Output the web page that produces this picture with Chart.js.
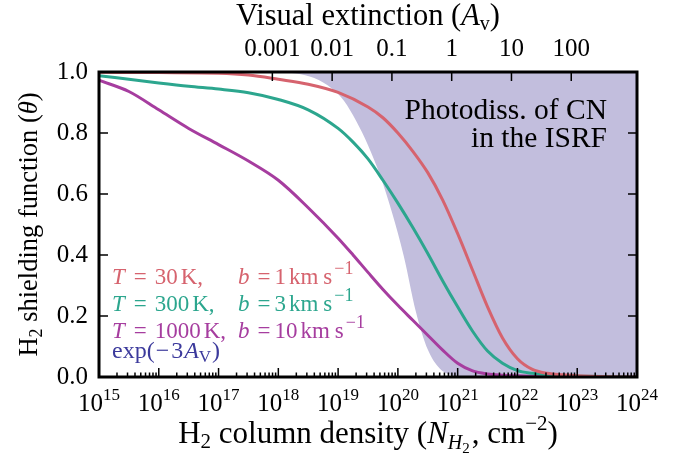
<!DOCTYPE html>
<html>
<head>
<meta charset="utf-8">
<script src="https://cdn.jsdelivr.net/npm/chart.js@4.4.0/dist/chart.umd.min.js"></script>
<style>
html,body{margin:0;background:#fff;}
.warm{position:absolute;left:-999px;top:0;font-family:"Liberation Serif","Times New Roman",serif;}
</style>
</head>
<body>
<span class="warm">Visual <i>extinction</i> 0123456789</span>
<canvas id="c" width="687" height="455"></canvas>
<script>
// log10 of the H2 column density (cm^-2) and shielding factor
const logN30 = [15, 16, 17, 17.5, 18, 18.5, 19, 19.5, 19.75, 20, 20.25, 20.5, 20.75, 21, 21.25, 21.5, 21.75, 22, 22.25, 22.5, 22.75, 23, 23.5, 24];
const theta30 = [0.999, 0.998, 0.996, 0.99, 0.976, 0.96, 0.933, 0.885, 0.85, 0.80, 0.74, 0.67, 0.58, 0.47, 0.35, 0.23, 0.128, 0.06, 0.025, 0.012, 0.007, 0.004, 0.001, 0];

const logN300 = [15, 15.5, 16, 16.5, 17, 17.5, 18, 18.5, 19, 19.25, 19.5, 19.75, 20, 20.25, 20.5, 20.75, 21, 21.25, 21.5, 21.75, 22, 22.25, 22.5, 23, 24];
const theta300 = [0.988, 0.976, 0.964, 0.953, 0.944, 0.932, 0.91, 0.876, 0.815, 0.77, 0.715, 0.645, 0.57, 0.49, 0.405, 0.315, 0.23, 0.15, 0.085, 0.045, 0.021, 0.012, 0.007, 0.003, 0];

const logN1000 = [15, 15.5, 16, 16.5, 17, 17.5, 18, 18.5, 19, 19.25, 19.5, 19.75, 20, 20.25, 20.5, 20.75, 21, 21.25, 21.5, 21.75, 22, 22.5, 24];
const theta1000 = [0.973, 0.936, 0.876, 0.815, 0.762, 0.708, 0.645, 0.555, 0.455, 0.4, 0.343, 0.287, 0.235, 0.186, 0.137, 0.088, 0.045, 0.02, 0.01, 0.006, 0.004, 0.001, 0];

// edge of the shaded exp(-3 A_V) region
const logNExp = [17.0, 18.0, 18.3, 18.6, 18.9, 19.1, 19.3, 19.5, 19.7, 19.9, 20.1, 20.3, 20.5, 20.7, 20.9, 21.1, 24];
const thetaExp = [1.0, 0.999, 0.995, 0.98, 0.945, 0.905, 0.84, 0.76, 0.662, 0.54, 0.395, 0.215, 0.09, 0.028, 0.006, 0, 0];

const decades = [15, 16, 17, 18, 19, 20, 21, 22, 23, 24];
const yTicks = [0, 0.2, 0.4, 0.6, 0.8, 1.0];
const avTicks = [-3, -2, -1, 0, 1, 2];        // log10(A_V)
const avTickLabels = ['0.001', '0.01', '0.1', '1', '10', '100'];
const AV_MIN = -5.9, AV_MAX = 3.1;            // top axis range matching 1e15..1e24

const RED = '#d6636e', TEAL = '#2ca68e', PURPLE = '#a63d9f', EXPBLUE = '#3c3a9c', SHADE = '#c2bedd';
const SERIF = "'Liberation Serif', 'Times New Roman', 'DejaVu Serif', serif";
const f = (size, style) => (style ? style + ' ' : '') + size + 'px ' + SERIF;

const pts = (xs, ys) => xs.map((x, i) => ({x: x, y: ys[i]}));

// draws a list of text runs (font changes, sub/superscripts) on one baseline
function drawRich(ctx, runs, x, y, align) {
  let total = 0;
  for (const r of runs) { ctx.font = r.f; total += ctx.measureText(r.t).width + (r.gap || 0); }
  let cx = align === 'center' ? x - total / 2 : align === 'right' ? x - total : x;
  for (const r of runs) {
    ctx.font = r.f;
    if (r.c) ctx.fillStyle = r.c;
    ctx.fillText(r.t, cx, y + (r.dy || 0));
    cx += ctx.measureText(r.t).width + (r.gap || 0);
  }
}

const decor = {
  id: 'decor',
  afterDatasetsDraw(chart) {
    const ctx = chart.ctx, a = chart.chartArea, sx = chart.scales.x, sy = chart.scales.y, st = chart.scales.xTop;
    ctx.save();
    ctx.strokeStyle = '#000';
    ctx.lineWidth = 1.5;
    ctx.beginPath();
    // bottom: decades + minor ticks
    decades.forEach(d => {
      const x = sx.getPixelForValue(d);
      ctx.moveTo(x, a.bottom); ctx.lineTo(x, a.bottom - 9);
      if (d < 24) for (let k = 2; k <= 9; k++) {
        const xm = sx.getPixelForValue(d + Math.log10(k));
        ctx.moveTo(xm, a.bottom); ctx.lineTo(xm, a.bottom - 4.5);
      }
    });
    // left / right y ticks
    yTicks.forEach(v => {
      const y = sy.getPixelForValue(v);
      ctx.moveTo(a.left, y); ctx.lineTo(a.left + 9, y);
      ctx.moveTo(a.right, y); ctx.lineTo(a.right - 9, y);
    });
    // top A_V ticks
    avTicks.forEach(v => {
      const x = st.getPixelForValue(v);
      ctx.moveTo(x, a.top); ctx.lineTo(x, a.top + 9);
    });
    ctx.stroke();
    ctx.lineWidth = 3;
    ctx.strokeRect(a.left, a.top, a.right - a.left, a.bottom - a.top);

    ctx.textAlign = 'left';
    ctx.textBaseline = 'alphabetic';
    ctx.fillStyle = '#000';
    // bottom tick labels 10^n
    decades.forEach(d => {
      drawRich(ctx, [{t: '10', f: f(25)}, {t: String(d), f: f(17), dy: -11}], sx.getPixelForValue(d), a.bottom + 34, 'center');
    });
    // axis titles
    drawRich(ctx, [
      {t: 'H', f: f(31)}, {t: '2', f: f(21), dy: 5}, {t: ' column density (', f: f(31)},
      {t: 'N', f: f(31, 'italic')}, {t: 'H', f: f(20, 'italic'), dy: 6}, {t: '2', f: f(15), dy: 10, gap: 2},
      {t: ', cm', f: f(31)}, {t: '\u22122', f: f(21), dy: -13}, {t: ')', f: f(31)}
    ], (a.left + a.right) / 2, 443, 'center');
    drawRich(ctx, [
      {t: 'Visual extinction (', f: f(30.5)}, {t: 'A', f: f(30.5, 'italic')},
      {t: 'v', f: f(20), dy: 5}, {t: ')', f: f(30.5)}
    ], (a.left + a.right) / 2, 25, 'center');
    ctx.save();
    ctx.translate(37, (a.top + a.bottom) / 2);
    ctx.rotate(-Math.PI / 2);
    drawRich(ctx, [
      {t: 'H', f: f(26.5)}, {t: '2', f: f(18), dy: 5}, {t: ' shielding function (', f: f(26.5)},
      {t: '\u03b8', f: f(26.5, 'italic')}, {t: ')', f: f(26.5)}
    ], 0, 0, 'center');
    ctx.restore();

    // annotation inside the shaded region
    ctx.fillStyle = '#000';
    ctx.font = f(29.5);
    ctx.textAlign = 'right';
    ctx.fillText('Photodiss. of CN', 607, 119);
    ctx.fillText('in the ISRF', 607, 147);
    ctx.textAlign = 'left';

    // coloured legend text
    const rows = [
      {c: RED, T: '30', b: '1', y: 284},
      {c: TEAL, T: '300', b: '3', y: 311},
      {c: PURPLE, T: '1000', b: '10', y: 338}
    ];
    rows.forEach(r => {
      drawRich(ctx, [
        {t: 'T', f: f(23, 'italic'), c: r.c, gap: 9}, {t: '=', f: f(23), gap: 8},
        {t: r.T, f: f(23), gap: 3}, {t: 'K,', f: f(23)}
      ], 112, r.y, 'left');
      drawRich(ctx, [
        {t: 'b', f: f(23, 'italic'), c: r.c, gap: 8}, {t: '=', f: f(23), gap: 4},
        {t: r.b, f: f(23), gap: 3}, {t: 'km', f: f(23), gap: 5}, {t: 's', f: f(23), gap: 2},
        {t: '\u22121', f: f(18), dy: -10}
      ], 238, r.y, 'left');
    });
    drawRich(ctx, [
      {t: 'exp(', f: f(24), c: EXPBLUE, gap: 1}, {t: '\u2212', f: f(24), gap: 2}, {t: '3', f: f(24), gap: 1},
      {t: 'A', f: f(24, 'italic')}, {t: 'V', f: f(17), dy: 4, gap: 1}, {t: ')', f: f(24)}
    ], 112, 358, 'left');
    ctx.restore();
  }
};

function build() {
  new Chart(document.getElementById('c'), {
    type: 'line',
    data: {
      datasets: [
        {label: 'T = 30 K', data: pts(logN30, theta30), borderColor: RED, borderWidth: 3, pointRadius: 0, cubicInterpolationMode: 'monotone', fill: false, order: 1},
        {label: 'T = 300 K', data: pts(logN300, theta300), borderColor: TEAL, borderWidth: 3, pointRadius: 0, cubicInterpolationMode: 'monotone', fill: false, order: 2},
        {label: 'T = 1000 K', data: pts(logN1000, theta1000), borderColor: PURPLE, borderWidth: 3, pointRadius: 0, cubicInterpolationMode: 'monotone', fill: false, order: 3},
        {label: 'exp(-3Av)', data: pts(logNExp, thetaExp), borderWidth: 0, borderColor: 'rgba(0,0,0,0)', backgroundColor: SHADE, pointRadius: 0, cubicInterpolationMode: 'monotone', fill: 'end', order: 10}
      ]
    },
    options: {
      responsive: false,
      animation: false,
      layout: {padding: {left: 0, right: 50, top: 0, bottom: 0}},
      plugins: {legend: {display: false}, tooltip: {enabled: false}},
      scales: {
        x: {
          type: 'linear', position: 'bottom', min: 15, max: 24,
          grid: {display: false}, border: {display: false},
          ticks: {display: false},
          afterFit: s => { s.height = 78; }
        },
        xTop: {
          type: 'linear', position: 'top', min: AV_MIN, max: AV_MAX,
          grid: {display: false, drawTicks: false}, border: {display: false},
          afterBuildTicks: s => { s.ticks = avTicks.map(v => ({value: v})); },
          ticks: {
            color: '#000', font: {family: SERIF, size: 25}, padding: 8,
            maxRotation: 0, autoSkip: false,
            callback: (v, i) => avTickLabels[i]
          },
          afterFit: s => { s.height = 72; }
        },
        y: {
          min: 0, max: 1,
          grid: {display: false, drawTicks: false}, border: {display: false},
          afterBuildTicks: s => { s.ticks = yTicks.map(v => ({value: v})); },
          ticks: {color: '#000', font: {family: SERIF, size: 25}, padding: 11, callback: v => v.toFixed(1)},
          afterFit: s => { s.width = 99; }
        }
      }
    },
    plugins: [decor]
  });
}

Promise.all([
  document.fonts.load("25px 'Liberation Serif'"),
  document.fonts.load("italic 25px 'Liberation Serif'")
]).then(build, build);
</script>
</body>
</html>
